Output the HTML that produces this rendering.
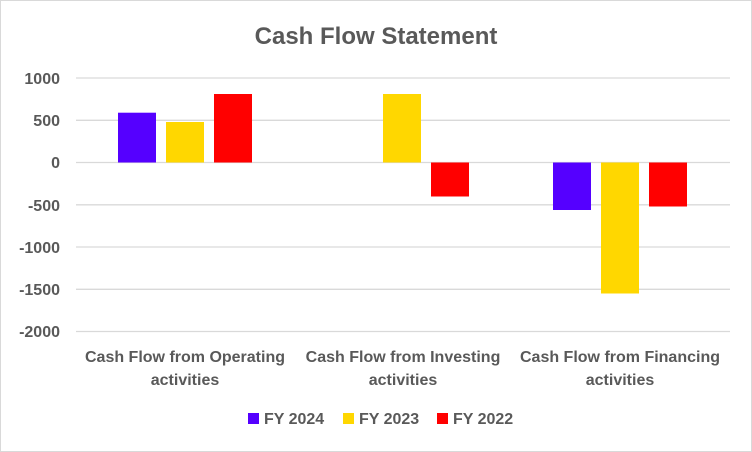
<!DOCTYPE html>
<html><head><style>
body{margin:0;background:#fff}
svg{display:block}
text{font-family:"Liberation Sans",sans-serif;fill:#595959;font-weight:bold}
</style></head><body>
<svg width="752" height="452" viewBox="0 0 752 452">
<rect x="0.5" y="0.5" width="751" height="451" fill="#fff" stroke="#d9d9d9"/>
<text x="376" y="44" font-size="24" text-anchor="middle">Cash Flow Statement</text>
<g stroke="#d9d9d9" stroke-width="1.3">
<line x1="76" x2="730" y1="78" y2="78"/>
<line x1="76" x2="730" y1="120.3" y2="120.3"/>
<line x1="76" x2="730" y1="162.5" y2="162.5"/>
<line x1="76" x2="730" y1="204.8" y2="204.8"/>
<line x1="76" x2="730" y1="247" y2="247"/>
<line x1="76" x2="730" y1="289.3" y2="289.3"/>
<line x1="76" x2="730" y1="331.5" y2="331.5"/>
</g>
<g font-size="16" text-anchor="end">
<text x="60" y="84">1000</text>
<text x="60" y="126">500</text>
<text x="60" y="168">0</text>
<text x="60" y="211">-500</text>
<text x="60" y="253">-1000</text>
<text x="60" y="295">-1500</text>
<text x="60" y="337">-2000</text>
</g>
<rect x="118" y="112.7" width="38" height="49.8" fill="#5500FF"/>
<rect x="166" y="122" width="38" height="40.5" fill="#FFD700"/>
<rect x="214" y="94" width="38" height="68.5" fill="#FF0000"/>
<rect x="383" y="94" width="38" height="68.5" fill="#FFD700"/>
<rect x="431" y="162.5" width="38" height="34" fill="#FF0000"/>
<rect x="553" y="162.5" width="38" height="47.5" fill="#5500FF"/>
<rect x="601" y="162.5" width="38" height="131" fill="#FFD700"/>
<rect x="649" y="162.5" width="38" height="44" fill="#FF0000"/>
<g font-size="16" text-anchor="middle">
<text x="185" y="362">Cash Flow from Operating</text>
<text x="185" y="385">activities</text>
<text x="403" y="362">Cash Flow from Investing</text>
<text x="403" y="385">activities</text>
<text x="620" y="362">Cash Flow from Financing</text>
<text x="620" y="385">activities</text>
</g>
<rect x="248" y="413" width="11" height="11" fill="#5500FF"/>
<text x="264" y="424" font-size="16">FY 2024</text>
<rect x="343" y="413" width="11" height="11" fill="#FFD700"/>
<text x="359" y="424" font-size="16">FY 2023</text>
<rect x="437" y="413" width="11" height="11" fill="#FF0000"/>
<text x="453" y="424" font-size="16">FY 2022</text>
</svg>
</body></html>
